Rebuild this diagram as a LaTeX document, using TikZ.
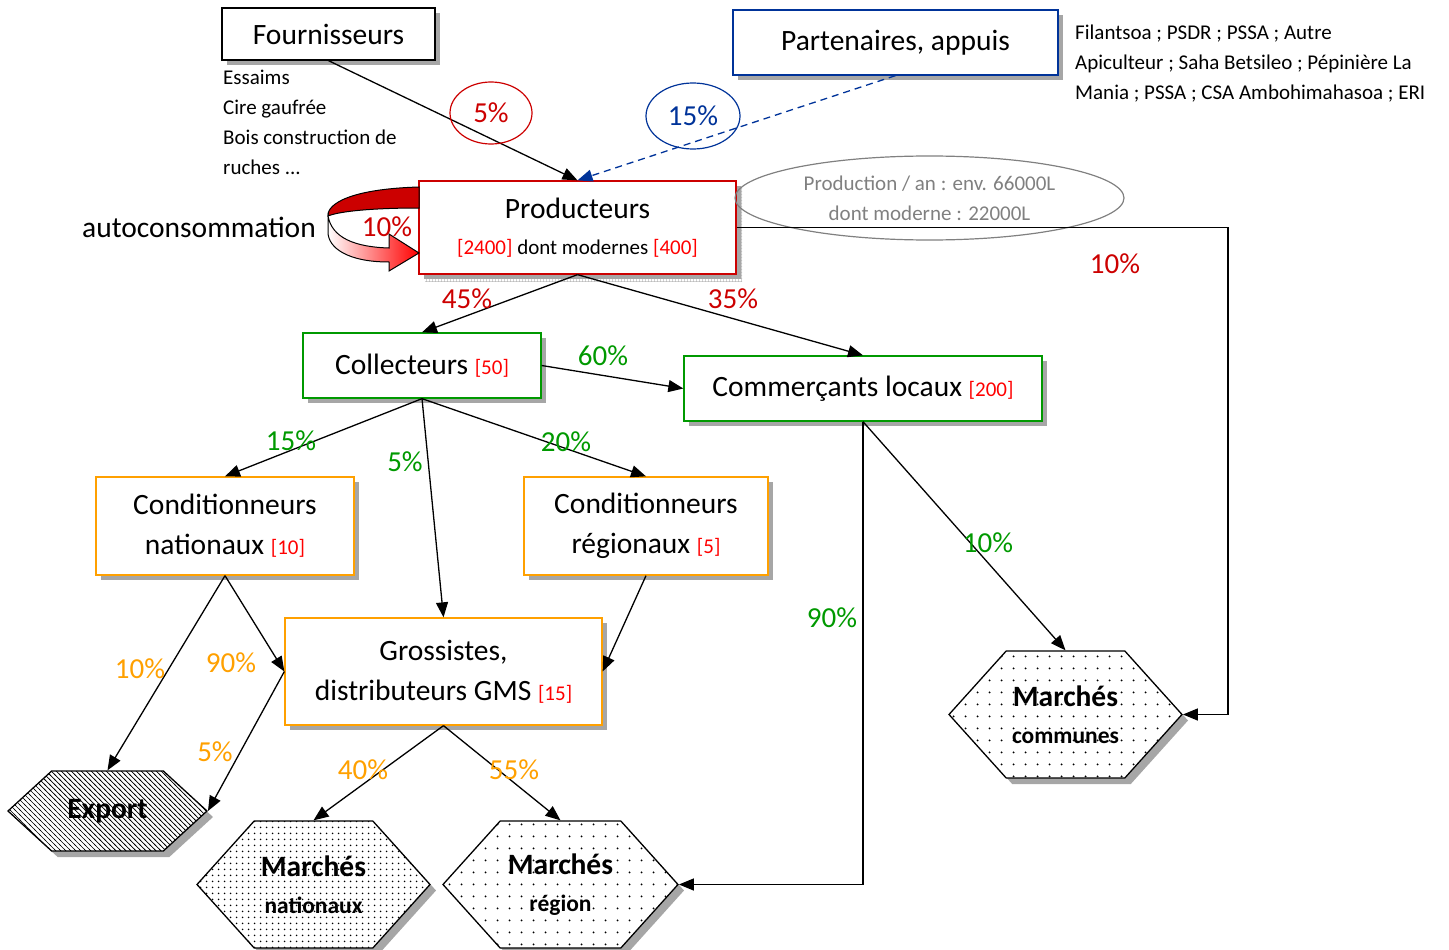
\documentclass[tikz,border=0pt]{standalone}
\usepackage{fontspec}
\setmainfont{Carlito}
\usetikzlibrary{arrows.meta,shapes.symbols,shapes.geometric,shadows,patterns}

\definecolor{rouge}{RGB}{204,0,0}
\definecolor{vif}{RGB}{255,0,0}
\definecolor{vert}{RGB}{0,153,0}
\definecolor{ocre}{RGB}{255,160,0}
\definecolor{bleu}{RGB}{0,51,153}

\newcommand{\grand}{\fontsize{29.5}{40}\selectfont}
\newcommand{\petit}{\fontsize{21}{30}\selectfont}
\newcommand{\sous}{\fontsize{23.5}{37}\selectfont}
\newcommand{\nb}[1]{{\petit\color{vif}[#1]}}

\pgfdeclarepatternformonly{points clairs}{\pgfqpoint{0pt}{0pt}}{\pgfqpoint{12pt}{12pt}}{\pgfqpoint{12pt}{12pt}}%
  {\pgfpathcircle{\pgfqpoint{6pt}{6pt}}{1.1pt}\pgfusepath{fill}}
\pgfdeclarepatternformonly{points serres}{\pgfqpoint{0pt}{0pt}}{\pgfqpoint{6pt}{6pt}}{\pgfqpoint{6pt}{6pt}}%
  {\pgfpathcircle{\pgfqpoint{3pt}{3pt}}{1pt}\pgfusepath{fill}}
\pgfdeclarepatternformonly{hachures}{\pgfqpoint{-1pt}{-1pt}}{\pgfqpoint{6pt}{6pt}}{\pgfqpoint{5pt}{5pt}}%
  {\pgfsetlinewidth{0.7pt}\pgfpathmoveto{\pgfqpoint{-1pt}{6pt}}\pgfpathlineto{\pgfqpoint{6pt}{-1pt}}\pgfusepath{stroke}}

\begin{document}
\begin{tikzpicture}[x=1pt,y=-1pt,
  box/.style={draw, line width=1.3pt, fill=white, align=center, font=\grand,
    drop shadow={shadow xshift=5pt, shadow yshift=-5pt, fill=gray!70, opacity=1}},
  hexa/.style={signal, signal to=east and west, draw, line width=1.3pt, align=center,
    inner sep=0pt, font=\bfseries\fontsize{29.5}{37}\selectfont,
    drop shadow={shadow xshift=6pt, shadow yshift=-6pt, fill=gray!70, opacity=1},
    preaction={fill=white}},
  fleche/.style={-{Triangle[length=15pt,width=12pt]}, line width=1.3pt},
  pct/.style={font=\fontsize{29}{30}\selectfont},
  rond/.style={ellipse, draw, line width=1.2pt, pct, inner sep=0pt}]

\useasboundingbox (0,0) rectangle (1449,950);

% acteurs
\node[box, minimum width=213pt, minimum height=52pt] (four) at (328.5,34) {Fournisseurs};
\node[box, draw=bleu, minimum width=325pt, minimum height=65pt] (part) at (895.5,42.5) {Partenaires, appuis};
\node[box, draw=rouge, minimum width=317pt, minimum height=93pt,
  drop shadow={shadow xshift=6pt, shadow yshift=-7pt, pattern=grid, pattern color=gray!70}]
  (prod) at (577.5,227.5) {Producteurs\\[-4pt]{\petit\nb{2400} dont modernes \nb{400}}};
\node[box, draw=vert, minimum width=238pt, minimum height=65pt] (coll) at (422,365.5) {Collecteurs \nb{50}};
\node[box, draw=vert, minimum width=358pt, minimum height=65pt] (comm) at (863,388.5) {Commerçants locaux \nb{200}};
\node[box, draw=ocre, minimum width=258pt, minimum height=98pt] (condnat) at (225,526) {Conditionneurs\\nationaux \nb{10}};
\node[box, draw=ocre, minimum width=244pt, minimum height=98pt] (condreg) at (646,526) {Conditionneurs\\régionaux \nb{5}};
\node[box, draw=ocre, minimum width=317pt, minimum height=107pt] (gros) at (443.5,671.5) {Grossistes,\\distributeurs GMS \nb{15}};

% marches
\node[hexa, pattern=hachures, signal pointer angle=85, minimum width=199pt, minimum height=80pt]
  (export) at (107.5,811) {Export};
\node[hexa, pattern=points serres, signal pointer angle=96, minimum width=233pt, minimum height=127pt]
  (mnat) at (313.5,884.5) {Marchés\\{\sous nationaux}};
\node[hexa, pattern=points clairs, signal pointer angle=96, minimum width=235pt, minimum height=127pt]
  (mreg) at (560.5,884.5) {Marchés\\{\sous région}};
\node[hexa, pattern=points clairs, signal pointer angle=96, minimum width=233pt, minimum height=127pt]
  (mcom) at (1065.5,714.5) {Marchés\\{\sous communes}};

% textes libres
\node[anchor=north west, align=left, font=\petit, inner sep=0pt] (intrants) at (223,70)
  {Essaims\\Cire gaufrée\\Bois construction de\\ruches ...};
\node[anchor=north west, align=left, font=\petit, inner sep=0pt] (appuis) at (1075,25)
  {Filantsoa ; PSDR ; PSSA ; Autre\\Apiculteur ; Saha Betsileo ; Pépinière La\\Mania ; PSSA ; CSA Ambohimahasoa ; ERI};
\node[ellipse, draw=gray, line width=1.2pt, minimum width=389pt, minimum height=84pt, align=center,
  text=gray, font=\petit] (prodan) at (929.5,198) {Production / an : env. 66000L\\dont moderne : 22000L};
\node[font=\grand] (auto) at (199,227) {autoconsommation};

% autoconsommation
\fill[rouge, draw=black, line width=1pt] (419,187) .. controls (350,189) and (327,204) .. (328,216)
  .. controls (340,211) and (375,208) .. (419,208) -- cycle;
\shade[left color=white, right color=vif, draw=black, line width=1pt]
  (328,216) .. controls (332,238) and (355,247) .. (389,248) -- (389,234) -- (419,253)
  -- (389,271) -- (389,262) .. controls (348,262) and (328,248) .. (328,232) -- cycle;
\node[pct, text=rouge] (p-auto) at (387,227) {10\%};

% flux
\draw[fleche] (four.south) -- (prod.north);
\draw[fleche, bleu, dash pattern=on 7pt off 5pt] (part.south) -- (prod.north);
\node[rond, draw=rouge, text=rouge, minimum width=82pt, minimum height=62pt] (p-four) at (491,113) {5\%};
\node[rond, draw=bleu, text=bleu, minimum width=94pt, minimum height=66pt] (p-part) at (693,116) {15\%};

\coordinate (coin) at (1228,227.5);
\draw[fleche] (prod.east) -- (coin) |- (mcom.east);
\draw[fleche] (prod.south) -- (coll.north);
\draw[fleche] (prod.south) -- (comm.north);
\draw[fleche] (coll.east) -- (comm.west);
\draw[fleche] (coll.south) -- (condnat.north);
\draw[fleche] (coll.south) -- (gros.north);
\draw[fleche] (coll.south) -- (condreg.north);
\draw[fleche] (comm.south) -- (mcom.north);
\draw[fleche] (comm.south) |- (mreg.east);
\draw[fleche] (condnat.south) -- (export.north);
\draw[fleche] (condnat.south) -- (gros.west);
\draw[fleche] (condreg.south) -- (gros.east);
\draw[fleche] (gros.west) -- (export.east);
\draw[fleche] (gros.south) -- (mnat.north);
\draw[fleche] (gros.south) -- (mreg.north);

% pourcentages
\node[pct, text=rouge] (p1) at (467,299) {45\%};
\node[pct, text=rouge] (p2) at (733,299) {35\%};
\node[pct, text=rouge] (p3) at (1115,264) {10\%};
\node[pct, text=vert] (p4) at (603,356) {60\%};
\node[pct, text=vert] (p5) at (291,441) {15\%};
\node[pct, text=vert] (p6) at (405,462) {5\%};
\node[pct, text=vert] (p7) at (566,442) {20\%};
\node[pct, text=vert] (p8) at (988,543) {10\%};
\node[pct, text=vert] (p9) at (832,618) {90\%};
\node[pct, text=ocre] (p10) at (140,669) {10\%};
\node[pct, text=ocre] (p11) at (231,663) {90\%};
\node[pct, text=ocre] (p12) at (215,752) {5\%};
\node[pct, text=ocre] (p13) at (363,770) {40\%};
\node[pct, text=ocre] (p14) at (514,770) {55\%};

\end{tikzpicture}
\end{document}
